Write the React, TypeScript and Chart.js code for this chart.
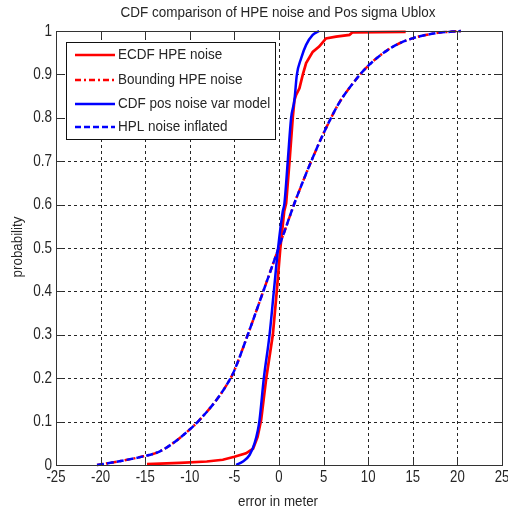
import React, { useEffect, useRef } from "react";
import { Chart, registerables } from "chart.js";

Chart.register(...registerables);

// Empirical CDF of the horizontal position error (metres vs probability)
const ecdfX = [-14.8, -11.1, -8.1, -6.3, -5.0, -3.7, -2.9, -2.4, -2.0, -1.43, -0.69, -0.25, 0.15, 0.58, 0.8, 1.2, 1.54, 1.73, 1.92, 2.29, 2.66, 3.04, 3.78, 4.5, 5.27, 6.4, 7.9, 8.25, 14.2];
const ecdfY = [0.002, 0.005, 0.008, 0.012, 0.019, 0.027, 0.038, 0.065, 0.104, 0.2, 0.3, 0.4, 0.5, 0.584, 0.603, 0.705, 0.8, 0.841, 0.853, 0.868, 0.899, 0.926, 0.952, 0.964, 0.983, 0.987, 0.991, 0.997, 0.998];

// Bounding CDF of the error
const boundX = [-20.4, -18.9, -16.3, -15.2, -13.4, -11.9, -10.0, -8.9, -6.65, -5.3, -5.0, -3.5, -1.8, -0.13, 0.24, 0.61, 1.73, 2.66, 3.78, 5.08, 6.76, 8.5, 10.1, 12.7, 14.95, 17.6, 20.4];
const boundY = [0.0, 0.005, 0.015, 0.02, 0.031, 0.05, 0.082, 0.104, 0.16, 0.205, 0.218, 0.3, 0.398, 0.495, 0.517, 0.538, 0.603, 0.652, 0.708, 0.768, 0.835, 0.885, 0.922, 0.963, 0.983, 0.995, 1.0];

// CDF from the position noise variance model
const modelX = [-4.8, -4.04, -3.3, -2.74, -2.37, -2.18, -1.7, -1.06, -0.58, -0.1, 0.42, 0.61, 1.0, 1.36, 1.73, 2.0, 2.48, 3.04, 3.78, 4.5];
const modelY = [0.0, 0.008, 0.023, 0.05, 0.08, 0.104, 0.2, 0.3, 0.4, 0.5, 0.584, 0.603, 0.705, 0.8, 0.841, 0.899, 0.937, 0.968, 0.991, 1.0];

// CDF of the inflated HPL noise
const hplX = [-20.4, -18.9, -16.3, -15.2, -13.4, -11.9, -10.0, -8.9, -6.65, -5.3, -5.0, -3.5, -1.8, -0.13, 0.24, 0.61, 1.73, 2.66, 3.78, 5.08, 6.76, 8.5, 10.1, 12.7, 14.95, 17.6, 20.4];
const hplY = [0.0, 0.005, 0.015, 0.02, 0.031, 0.05, 0.082, 0.104, 0.16, 0.205, 0.218, 0.3, 0.398, 0.495, 0.517, 0.538, 0.603, 0.652, 0.708, 0.768, 0.835, 0.885, 0.922, 0.963, 0.983, 0.995, 1.0];

const xTicks = [-25, -20, -15, -10, -5, 0, 5, 10, 15, 20, 25];
const xTickLabels = ["-25", "-20", "-15", "-10", "-5", "0", "5", "10", "15", "20", "25"];
const yTicks = [0, 0.1, 0.2, 0.3, 0.4, 0.5, 0.6, 0.7, 0.8, 0.9, 1];
const yTickLabels = ["0", "0.1", "0.2", "0.3", "0.4", "0.5", "0.6", "0.7", "0.8", "0.9", "1"];

const seriesNames = ["ECDF HPE noise", "Bounding HPE noise", "CDF pos noise var model", "HPL noise inflated"];
const titleText = "CDF comparison of HPE noise and Pos sigma Ublox";
const xTitle = "error in meter";
const yTitle = "probability";

const RED = "#ff0000";
const BLUE = "#0000ff";
const TEXT = "#262626";
const FAMILY = '"Liberation Sans", Arial, sans-serif';

const pts = (xs: number[], ys: number[]) => xs.map((x, i) => ({ x, y: ys[i] }));

function drawText(
  ctx: CanvasRenderingContext2D,
  text: string,
  x: number,
  y: number,
  align: CanvasTextAlign,
  size = 15,
  sx = 0.88,
  rotate = 0
) {
  ctx.save();
  ctx.translate(x, y);
  if (rotate) ctx.rotate(rotate);
  ctx.scale(sx, 1);
  ctx.font = `${size}px ${FAMILY}`;
  ctx.fillStyle = TEXT;
  ctx.textAlign = align;
  ctx.textBaseline = "middle";
  ctx.fillText(text, 0, 0);
  ctx.restore();
}

const axesPlugin = {
  id: "matlabAxes",
  beforeDatasetsDraw(chart: any) {
    const { ctx, chartArea: a, scales } = chart;
    const xs = scales.x;
    const ys = scales.y;
    ctx.save();
    ctx.strokeStyle = "rgba(0,0,0,0.85)";
    ctx.lineWidth = 1;
    ctx.setLineDash([3, 3]);
    xTicks.forEach((v) => {
      if (v === xs.min || v === xs.max) return;
      const px = Math.round(xs.getPixelForValue(v)) + 0.5;
      ctx.beginPath();
      ctx.moveTo(px, a.top);
      ctx.lineTo(px, a.bottom);
      ctx.stroke();
    });
    yTicks.forEach((v) => {
      if (v === ys.min || v === ys.max) return;
      const py = Math.round(ys.getPixelForValue(v)) + 0.5;
      ctx.beginPath();
      ctx.moveTo(a.left, py);
      ctx.lineTo(a.right, py);
      ctx.stroke();
    });
    ctx.restore();
  },
  afterDatasetsDraw(chart: any) {
    const { ctx, chartArea: a, scales } = chart;
    const xs = scales.x;
    const ys = scales.y;
    const tl = 6;
    ctx.save();
    ctx.setLineDash([]);
    ctx.strokeStyle = "#333";
    ctx.lineWidth = 1;
    const L = Math.round(a.left) + 0.5;
    const R = Math.round(a.right) + 0.5;
    const T = Math.round(a.top) + 0.5;
    const B = Math.round(a.bottom) + 0.5;
    ctx.strokeRect(L, T, R - L, B - T);
    // inward tick marks on all four sides
    ctx.beginPath();
    xTicks.forEach((v) => {
      const px = Math.round(xs.getPixelForValue(v)) + 0.5;
      ctx.moveTo(px, B);
      ctx.lineTo(px, B - tl);
      ctx.moveTo(px, T);
      ctx.lineTo(px, T + tl);
    });
    yTicks.forEach((v) => {
      const py = Math.round(ys.getPixelForValue(v)) + 0.5;
      ctx.moveTo(L, py);
      ctx.lineTo(L + tl, py);
      ctx.moveTo(R, py);
      ctx.lineTo(R - tl, py);
    });
    ctx.stroke();

    // tick labels
    xTicks.forEach((v, i) => {
      drawText(ctx, xTickLabels[i], xs.getPixelForValue(v), a.bottom + 12, "center", 16.5, 0.8);
    });
    yTicks.forEach((v, i) => {
      drawText(ctx, yTickLabels[i], a.left - 4, ys.getPixelForValue(v), "right", 16.5, 0.82);
    });

    // titles
    const cx = (a.left + a.right) / 2;
    drawText(ctx, titleText, cx - 1, 13, "center", 15.5, 0.87);
    drawText(ctx, xTitle, cx - 1, 502, "center", 15.5, 0.86);
    drawText(ctx, yTitle, 18, (a.top + a.bottom) / 2 - 1, "center", 15.5, 0.86, -Math.PI / 2);

    // legend box
    const lx = 66, ly = 42, lw = 209, lh = 97;
    ctx.fillStyle = "#ffffff";
    ctx.fillRect(lx, ly, lw, lh);
    ctx.strokeStyle = "#111";
    ctx.lineWidth = 1;
    ctx.strokeRect(lx + 0.5, ly + 0.5, lw, lh);
    const rows = [55, 80, 104, 127];
    const styles = [
      { color: RED, dash: [] as number[] },
      { color: RED, dash: [6, 3, 2, 3] },
      { color: BLUE, dash: [] as number[] },
      { color: BLUE, dash: [6, 3] },
    ];
    rows.forEach((ry, i) => {
      ctx.save();
      ctx.strokeStyle = styles[i].color;
      ctx.lineWidth = 2.5;
      ctx.setLineDash(styles[i].dash);
      ctx.beginPath();
      ctx.moveTo(75, ry);
      ctx.lineTo(115, ry);
      ctx.stroke();
      ctx.restore();
      drawText(ctx, seriesNames[i], 118, ry, "left", 15.5, 0.87);
    });
    ctx.restore();
  },
};

export default function App() {
  const ref = useRef<HTMLCanvasElement | null>(null);

  useEffect(() => {
    if (!ref.current) return;
    const chart = new Chart(ref.current, {
      type: "line",
      data: {
        datasets: [
          {
            label: seriesNames[0],
            data: pts(ecdfX, ecdfY),
            borderColor: RED,
            borderWidth: 2.7,
            pointRadius: 0,
            order: 4,
            clip: false,
          },
          {
            label: seriesNames[1],
            data: pts(boundX, boundY),
            borderColor: RED,
            borderWidth: 2.5,
            borderDash: [6, 3, 2, 3],
            pointRadius: 0,
            cubicInterpolationMode: "monotone",
            order: 3,
            clip: false,
          },
          {
            label: seriesNames[2],
            data: pts(modelX, modelY),
            borderColor: BLUE,
            borderWidth: 2.5,
            pointRadius: 0,
            cubicInterpolationMode: "monotone",
            order: 2,
            clip: false,
          },
          {
            label: seriesNames[3],
            data: pts(hplX, hplY),
            borderColor: BLUE,
            borderWidth: 2.5,
            borderDash: [7, 3],
            pointRadius: 0,
            cubicInterpolationMode: "monotone",
            order: 1,
            clip: false,
          },
        ],
      } as any,
      options: {
        animation: false,
        responsive: false,
        maintainAspectRatio: false,
        devicePixelRatio: 1,
        layout: { padding: { left: 56, top: 31, right: 6, bottom: 48 } },
        scales: {
          x: { type: "linear", min: -25, max: 25, display: false },
          y: { type: "linear", min: 0, max: 1, display: false },
        },
        plugins: {
          legend: { display: false },
          title: { display: false },
          tooltip: { enabled: false },
        },
      },
      plugins: [axesPlugin],
    });
    return () => chart.destroy();
  }, []);

  return (
    <div style={{ position: "fixed", left: 0, top: 0, width: 508, height: 513, background: "#fff" }}>
      <canvas ref={ref} width={508} height={513} style={{ display: "block" }} />
    </div>
  );
}
